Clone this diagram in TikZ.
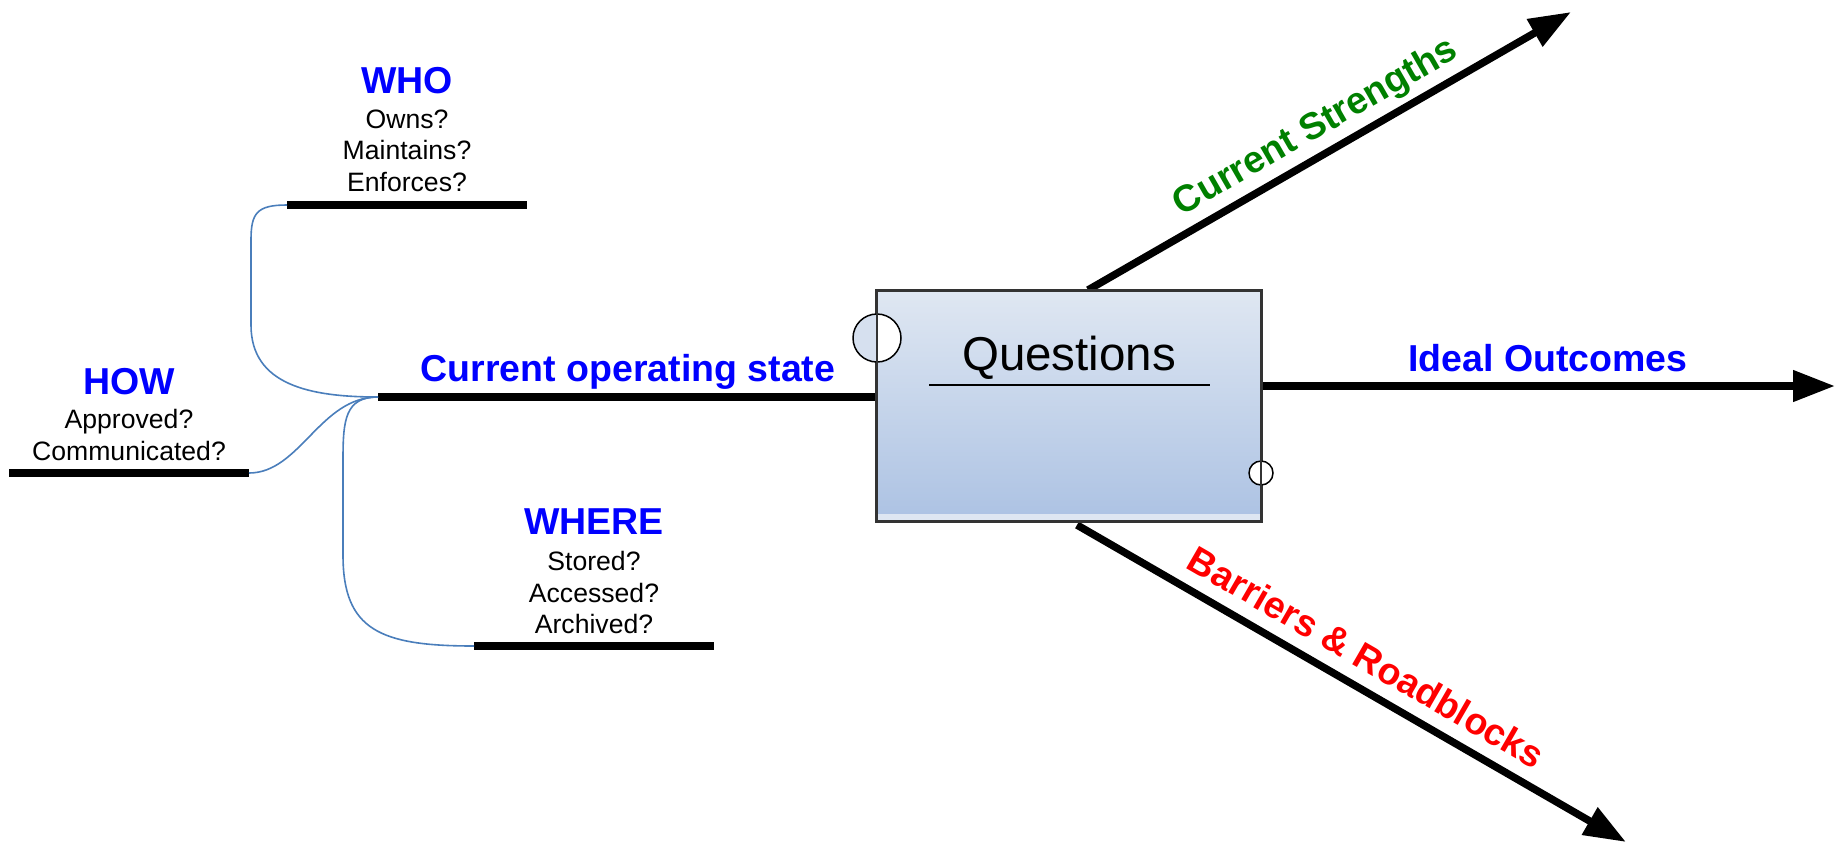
\documentclass[tikz,border=0pt]{standalone}
\usepackage{fontspec}
\setmainfont{Liberation Sans}
\usetikzlibrary{arrows.meta,calc}
\definecolor{tblue}{RGB}{0,0,255}
\definecolor{tgreen}{RGB}{0,128,0}
\definecolor{tred}{RGB}{255,0,0}
\definecolor{conncol}{RGB}{74,126,187}
\definecolor{boxtop}{RGB}{223,231,242}
\definecolor{boxbot}{RGB}{172,194,227}
\definecolor{boxstrip}{RGB}{222,230,242}
\definecolor{circblue}{RGB}{214,224,239}
\begin{document}
\begin{tikzpicture}[x=1pt,y=-1pt,
  bar/.style={line width=7.5pt},
  arr/.style={line width=7.5pt,-{Triangle[length=42pt,width=30pt]}},
  conn/.style={draw=conncol,line width=1.6pt},
  title/.style={font=\fontsize{37.5}{41}\selectfont\bfseries,text=tblue,inner sep=0pt,anchor=base},
  sub/.style={font=\fontsize{26.6}{30}\selectfont,inner sep=0pt,anchor=base},
  lbl/.style={font=\fontsize{37.5}{41}\selectfont\bfseries,inner sep=0pt,anchor=base}]
\useasboundingbox (0,0) rectangle (1841,844);

% coordinates
\coordinate (cs) at (378,397);
\coordinate (ce) at (877,397);
\coordinate (whos) at (287,205);
\coordinate (whoe) at (527,205);
\coordinate (hows) at (9,473);
\coordinate (howe) at (249,473);
\coordinate (wheres) at (474,646);
\coordinate (wheree) at (714,646);
\coordinate (ios) at (1261,386);
\coordinate (ioe) at (1835,386);
\coordinate (stS) at (1088,290);
\coordinate (stE) at (1571,12);
\coordinate (brS) at (1077,525);
\coordinate (brE) at (1626,842);

% black bars
\draw[bar] (cs) -- (ce);
\draw[bar] (whos) -- (whoe);
\draw[bar] (hows) -- (howe);
\draw[bar] (wheres) -- (wheree);

% arrows
\draw[arr] (ios) -- (ioe);
\draw[arr] (stS) -- (stE);
\draw[arr] (brS) -- (brE);

% connectors
\draw[conn] (whos) .. controls (257,205) and (251,213) .. (251,240) -- (251,325) .. controls (251,385) and (310,397) .. (cs);
\draw[conn] (howe) .. controls (300,473) and (320,397) .. (cs);
\draw[conn] (cs) .. controls (345,397) and (343,420) .. (343,460) -- (343,555) .. controls (343,630) and (380,646) .. (wheres);

% box
\node[draw=black!80,line width=1.6pt,top color=boxtop,bottom color=boxbot,minimum width=384pt,minimum height=230pt,inner sep=0pt] (box) at (1069,406) {};
\fill[boxstrip] (878,514) rectangle (1260,520);
\draw[black!80,line width=1.6pt] (box.north west) rectangle (box.south east);
\node[font=\fontsize{47.5}{52}\selectfont,inner sep=0pt,anchor=base] (qt) at (1069,370) {Questions};
\coordinate (ul1) at (929,385);
\coordinate (ul2) at (1210,385);
\draw[line width=1.5pt] (ul1) -- (ul2);

% circles
\coordinate (c1) at (877,338);
\begin{scope}
\clip (850,310) rectangle (877,366);
\fill[circblue] (c1) circle (24pt);
\end{scope}
\begin{scope}
\clip (877,310) rectangle (905,366);
\fill[white] (c1) circle (24pt);
\end{scope}
\draw[line width=1.5pt] (c1) circle (24pt);
\draw[line width=1.6pt,black!80] (877,310) -- (877,366);
\coordinate (c2) at (1261,473);
\fill[white] (c2) circle (12pt);
\draw[line width=1.5pt] (c2) circle (12pt);
\draw[line width=1.6pt,black!80] (1261,459) -- (1261,487);

% texts
\node[title] (who) at (407,93) {WHO};
\node[sub] (who1) at (407,128) {Owns?};
\node[sub] (who2) at (407,159) {Maintains?};
\node[sub] (who3) at (407,191) {Enforces?};
\node[title] (how) at (129,394) {HOW};
\node[sub] (how1) at (129,428) {Approved?};
\node[sub] (how2) at (129,460) {Communicated?};
\node[title] (where) at (594,534) {WHERE};
\node[sub] (where1) at (594,570) {Stored?};
\node[sub] (where2) at (594,602) {Accessed?};
\node[sub] (where3) at (594,633) {Archived?};
\node[title] (cos) at (628,381) {Current operating state};
\node[title] (io) at (1548,371) {Ideal Outcomes};

\path (stS) -- (stE) node[lbl,text=tgreen,pos=0.5,sloped,anchor=base,yshift=17pt] (stl) {Current Strengths};
\path (brS) -- (brE) node[lbl,text=tred,pos=0.5,sloped,anchor=base,yshift=17pt] (brl) {Barriers \& Roadblocks};
\end{tikzpicture}
\end{document}
